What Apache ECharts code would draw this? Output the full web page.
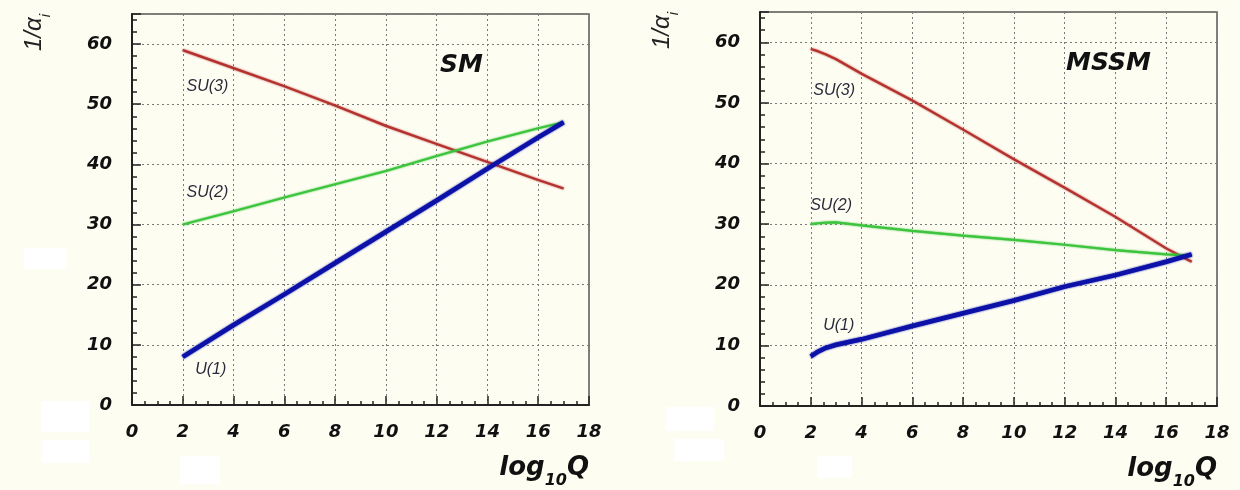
<!DOCTYPE html>
<html>
<head>
<meta charset="utf-8">
<script src="https://cdn.jsdelivr.net/npm/echarts@6/dist/echarts.min.js"></script>
<style>
html,body{margin:0;padding:0;background:#fdfdf2;}
#c{width:1240px;height:490px;}
</style>
</head>
<body>
<div id="c"></div>
<script>
// ---- data ----
const xTicks = [0, 2, 4, 6, 8, 10, 12, 14, 16, 18];
const yTicks = [0, 10, 20, 30, 40, 50, 60];

const smX   = [2, 4, 6, 8, 10, 12, 14, 16, 17];
const smSU3 = [59, 56, 53, 49.8, 46.4, 43.4, 40.4, 37.4, 36];
const smSU2 = [30, 32.2, 34.5, 36.7, 38.9, 41.4, 43.8, 46, 47];
const smU1  = [8, 13.3, 18.4, 23.6, 28.8, 34, 39.3, 44.5, 47];

const msX   = [2, 2.3, 2.6, 3, 4, 6, 8, 10, 12, 14, 16, 17];
const msSU3 = [58.9, 58.5, 58.0, 57.2, 54.8, 50.4, 45.6, 40.7, 36, 31.2, 26, 23.8];
const msSU2 = [30, 30.15, 30.25, 30.3, 29.8, 28.9, 28.1, 27.4, 26.6, 25.7, 25, 24.8];
const msU1  = [8.2, 9.0, 9.6, 10.1, 11, 13.2, 15.3, 17.4, 19.7, 21.6, 23.8, 25];

const seriesNames = ['SU(3)', 'SU(2)', 'U(1)'];
const panelTitles = ['SM', 'MSSM'];

// ---- helpers ----
function pairs(xs, ys) { return xs.map((x, i) => [x, ys[i]]); }

const FONT = 'Liberation Sans, Arial, sans-serif';
const BFONT = 'DejaVu Sans, Liberation Sans, sans-serif';

function makeX(gi) {
  return {
    gridIndex: gi, type: 'value', min: xTicks[0], max: xTicks[xTicks.length - 1], interval: 2,
    axisLine: { show: true, lineStyle: { color: '#222', width: 2 } },
    axisTick: { show: true, inside: true, length: 9, lineStyle: { color: '#222', width: 1.5 } },
    minorTick: { show: true, splitNumber: 4, length: 4, lineStyle: { color: '#222', width: 1.5 } },
    splitLine: { show: true, lineStyle: { color: '#7a7a7a', width: 1, type: [2, 3] } },
    axisLabel: { margin: 18, color: '#111', fontSize: 18, fontWeight: 'bold', fontStyle: 'italic', fontFamily: BFONT },
    name: '{a|log}{b|10}{a|Q}',
    nameLocation: 'end', nameGap: 0,
    nameTextStyle: {
      align: 'right', verticalAlign: 'top', padding: [48, 0, 0, 0],
      rich: {
        a: { fontSize: 26, fontWeight: 'bold', fontStyle: 'italic', fontFamily: BFONT, color: '#111', lineHeight: 30 },
        b: { fontSize: 16, fontWeight: 'bold', fontStyle: 'italic', fontFamily: BFONT, color: '#111', lineHeight: 30, verticalAlign: 'bottom', padding: [0, 0, -6, 0] }
      }
    }
  };
}
function makeY(gi) {
  return {
    gridIndex: gi, type: 'value', min: yTicks[0], max: 65, interval: 10,
    axisLine: { show: true, lineStyle: { color: '#222', width: 2 } },
    axisTick: { show: true, inside: true, length: 9, lineStyle: { color: '#222', width: 1.5 } },
    minorTick: { show: true, splitNumber: 5, length: 5, lineStyle: { color: '#222', width: 1.5 } },
    splitLine: { show: true, lineStyle: { color: '#7a7a7a', width: 1, type: [2, 3] } },
    axisLabel: { margin: 20, color: '#111', fontSize: 18, fontWeight: 'bold', fontStyle: 'italic', fontFamily: BFONT,
      formatter: v => (yTicks.indexOf(v) >= 0 ? String(v) : '') },
    name: '{a|1/α}{b|i}',
    nameLocation: 'end', nameRotate: 90, nameGap: 0,
    nameTextStyle: {
      align: 'right', verticalAlign: 'bottom', padding: [0, 0, 84, 0],
      rich: {
        a: { fontSize: 24, fontStyle: 'italic', fontFamily: FONT, color: '#222', lineHeight: 28 },
        b: { fontSize: 15, fontStyle: 'italic', fontFamily: FONT, color: '#222', lineHeight: 28, verticalAlign: 'bottom', padding: [0, 0, -5, 0] }
      }
    }
  };
}

const labelStyle = { fontSize: 16, fontStyle: 'italic', fontFamily: FONT, color: '#2a2a3a' };
function lineSeries(gi, name, data, color, width, labelCoord) {
  return {
    type: 'line', name: name, xAxisIndex: gi, yAxisIndex: gi, data: data,
    showSymbol: false, symbol: 'none', smooth: false, silent: true,
    lineStyle: { color: color, width: width, shadowColor: color, shadowBlur: 2 },
    markPoint: {
      symbol: 'circle', symbolSize: 0, silent: true,
      label: Object.assign({ show: true, position: 'inside', formatter: name }, labelStyle),
      data: [{ coord: labelCoord }]
    },
    z: width > 3 ? 4 : 3
  };
}

const RED = '#b4322e', GREEN = '#3cc43c', BLUE = '#0c12a8';
const titleStyle = { fontSize: 25, fontWeight: 'bold', fontStyle: 'italic', fontFamily: BFONT, color: '#111' };

const option = {
  backgroundColor: '#fdfdf2',
  animation: false,
  title: [
    { text: panelTitles[0], left: 440, top: 53, padding: 0, textStyle: titleStyle },
    { text: panelTitles[1], left: 1066, top: 51, padding: 0, textStyle: titleStyle }
  ],
  grid: [
    { left: 132, top: 14, width: 457, height: 391, show: true, borderColor: '#555', borderWidth: 1.5, backgroundColor: 'transparent' },
    { left: 760, top: 12, width: 457, height: 394, show: true, borderColor: '#555', borderWidth: 1.5, backgroundColor: 'transparent' }
  ],
  xAxis: [makeX(0), makeX(1)],
  yAxis: [makeY(0), makeY(1)],
  graphic: [
    { type: 'rect', shape: { x: 24, y: 248, width: 42, height: 21 }, style: { fill: '#ffffff' }, silent: true },
    { type: 'rect', shape: { x: 41, y: 401, width: 48, height: 31 }, style: { fill: '#ffffff' }, silent: true },
    { type: 'rect', shape: { x: 42, y: 440, width: 47, height: 23 }, style: { fill: '#ffffff' }, silent: true },
    { type: 'rect', shape: { x: 180, y: 456, width: 40, height: 28 }, style: { fill: '#ffffff' }, silent: true },
    { type: 'rect', shape: { x: 666, y: 407, width: 48, height: 24 }, style: { fill: '#ffffff' }, silent: true },
    { type: 'rect', shape: { x: 674, y: 439, width: 50, height: 22 }, style: { fill: '#ffffff' }, silent: true },
    { type: 'rect', shape: { x: 817, y: 456, width: 35, height: 22 }, style: { fill: '#ffffff' }, silent: true }
  ],
  series: [
    lineSeries(0, seriesNames[0], pairs(smX, smSU3), RED, 2.2, [2.97, 52.9]),
    lineSeries(0, seriesNames[1], pairs(smX, smSU2), GREEN, 2.2, [2.97, 35.4]),
    lineSeries(0, seriesNames[2], pairs(smX, smU1), BLUE, 4.5, [3.1, 5.9]),
    lineSeries(1, seriesNames[0], pairs(msX, msSU3), RED, 2.2, [2.92, 52.1]),
    lineSeries(1, seriesNames[1], pairs(msX, msSU2), GREEN, 2.2, [2.8, 33.1]),
    lineSeries(1, seriesNames[2], pairs(msX, msU1), BLUE, 4.5, [3.1, 13.3])
  ]
};

const chart = echarts.init(document.getElementById('c'), null, { renderer: 'canvas' });
chart.setOption(option);
</script>
</body>
</html>
